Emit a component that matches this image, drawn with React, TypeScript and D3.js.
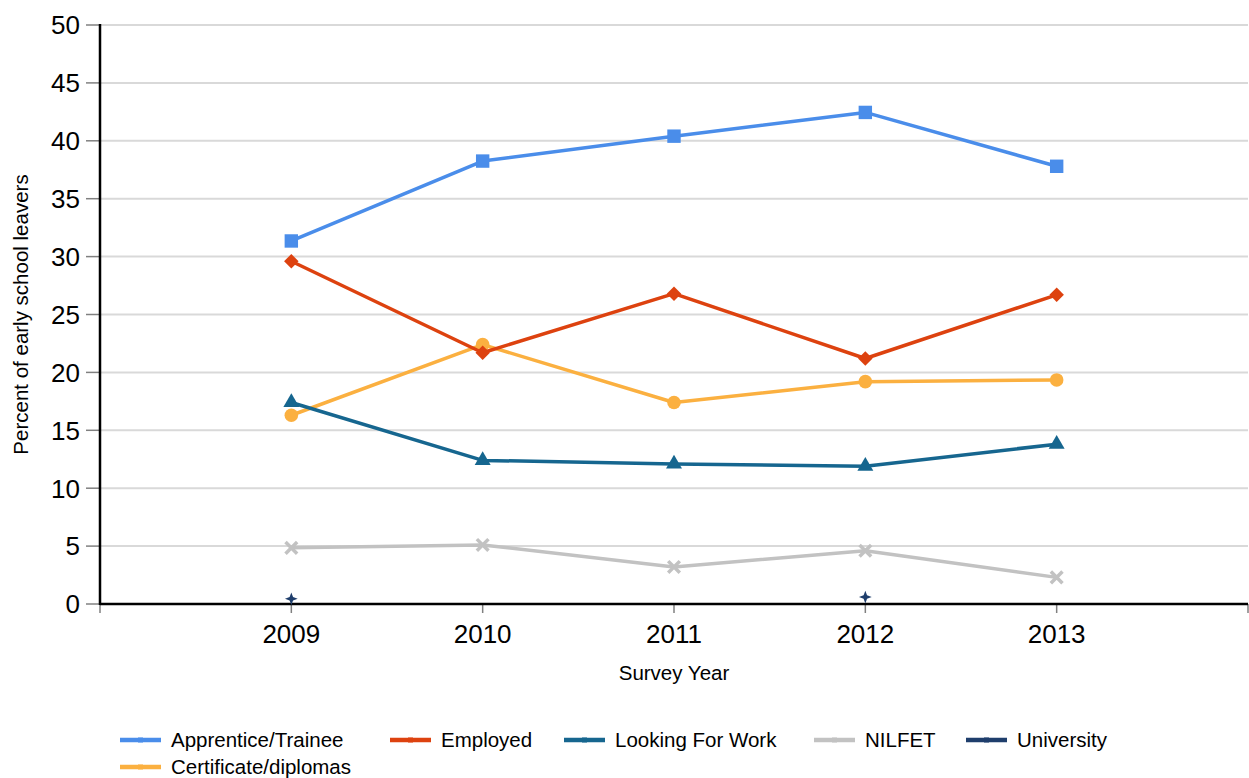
import React from "react";
import * as d3 from "d3";

const years = ["2009", "2010", "2011", "2012", "2013"];
const apprentice = [31.35, 38.25, 40.4, 42.45, 37.8];
const employed = [29.6, 21.7, 26.8, 21.2, 26.7];
const lookingForWork = [17.4, 12.4, 12.1, 11.9, 13.8];
const nilfet = [4.85, 5.1, 3.2, 4.6, 2.3];
const university: (number | null)[] = [0.45, null, null, 0.6, null];
const certificate = [16.3, 22.4, 17.4, 19.2, 19.35];
const yTicks = [0, 5, 10, 15, 20, 25, 30, 35, 40, 45, 50];
const seriesNames = ["Apprentice/Trainee", "Employed", "Looking For Work", "NILFET", "University", "Certificate/diplomas"];

const W = 1249, H = 778;
const left = 100, right = 1248, top = 25, bottom = 604;
const FONT = "'Liberation Sans', Arial, sans-serif";

const star4 = {
  draw(ctx: any, size: number) {
    const r = Math.sqrt(size) * 0.75;
    const ri = r * 0.38;
    for (let i = 0; i < 8; i++) {
      const a = (i * Math.PI) / 4 - Math.PI / 2;
      const rr = i % 2 === 0 ? r : ri;
      const x = Math.cos(a) * rr, y = Math.sin(a) * rr;
      if (i === 0) ctx.moveTo(x, y); else ctx.lineTo(x, y);
    }
    ctx.closePath();
  },
};

type S = { name: string; values: (number | null)[]; color: string; symbol: any; size: number; rotate?: number; stroke?: boolean };

const series: S[] = [
  { name: seriesNames[0], values: apprentice, color: "#4a8dea", symbol: d3.symbolSquare, size: 180 },
  { name: seriesNames[1], values: employed, color: "#dd420f", symbol: d3.symbolSquare, size: 105, rotate: 45 },
  { name: seriesNames[2], values: lookingForWork, color: "#16668f", symbol: d3.symbolTriangle, size: 110 },
  { name: seriesNames[3], values: nilfet, color: "#c2c2c2", symbol: d3.symbolTimes, size: 90, stroke: true },
  { name: seriesNames[4], values: university, color: "#1f3e6c", symbol: star4, size: 72 },
  { name: seriesNames[5], values: certificate, color: "#fbb040", symbol: d3.symbolCircle, size: 145 },
];

const legendPos = [
  { x: 120, y: 740 },
  { x: 390, y: 740 },
  { x: 564, y: 740 },
  { x: 814, y: 740 },
  { x: 966, y: 740 },
  { x: 120, y: 767 },
];

export default function App() {
  const x = d3.scalePoint<string>().domain(years).range([left, right]).padding(1);
  const y = d3.scaleLinear().domain([0, 50]).range([bottom, top]);
  const step = x.step();
  const xTickPos = d3.range(years.length + 2).map((i) => left + i * step);

  const drawOrder = [5, 3, 4, 2, 1, 0];

  return (
    <svg width={W} height={H} style={{ position: "absolute", left: 0, top: 0, background: "#fff" }} fontFamily={FONT}>
      {yTicks.map((t) => (
        <g key={t}>
          <line x1={left} x2={right} y1={y(t)} y2={y(t)} stroke="#d9d9d9" strokeWidth={2} />
          <line x1={86} x2={left} y1={y(t)} y2={y(t)} stroke="#808080" strokeWidth={1.5} />
          <text x={80} y={y(t)} dy="0.36em" textAnchor="end" fontSize={26} fill="#000">{t}</text>
        </g>
      ))}
      {xTickPos.map((p, i) => (
        <line key={i} x1={p} x2={p} y1={bottom} y2={bottom + 9} stroke="#808080" strokeWidth={1.5} />
      ))}
      {years.map((yr) => (
        <text key={yr} x={x(yr)} y={643} textAnchor="middle" fontSize={26} fill="#000">{yr}</text>
      ))}
      <line x1={left} x2={left} y1={top - 1} y2={bottom + 1} stroke="#000" strokeWidth={2.5} />
      <line x1={left} x2={right} y1={bottom} y2={bottom} stroke="#000" strokeWidth={2.5} />

      {drawOrder.map((si) => {
        const s = series[si];
        const all = s.values.map((v, i) => ({ v, i }));
        const pts = all.filter((d) => d.v !== null) as { v: number; i: number }[];
        const line = d3
          .line<{ v: number | null; i: number }>()
          .defined((d) => d.v !== null)
          .x((d) => x(years[d.i])!)
          .y((d) => y(d.v as number));
        const sym = d3.symbol().type(s.symbol).size(s.size)();
        return (
          <g key={s.name}>
            <path d={line(all) || ""} fill="none" stroke={s.color} strokeWidth={3.5} strokeLinejoin="round" />
            {pts.map((d) => (
              <path
                key={d.i}
                d={sym!}
                transform={`translate(${x(years[d.i])},${y(d.v)}) rotate(${s.rotate || 0})`}
                fill={s.stroke ? "none" : s.color}
                stroke={s.stroke ? s.color : "none"}
                strokeWidth={s.stroke ? 3.5 : 0}
              />
            ))}
          </g>
        );
      })}

      <text transform={`translate(28,${(top + bottom) / 2}) rotate(-90)`} textAnchor="middle" fontSize={20.5} fill="#000">
        Percent of early school leavers
      </text>
      <text x={(left + right) / 2} y={680} textAnchor="middle" fontSize={20.5} fill="#000">Survey Year</text>

      {series.map((s, i) => {
        const p = legendPos[i];
        return (
          <g key={s.name} transform={`translate(${p.x},${p.y})`}>
            <line x1={0} x2={41} y1={0} y2={0} stroke={s.color} strokeWidth={4.5} />
            <rect x={18} y={-2.5} width={5} height={5} fill={s.color} />
            <text x={51} y={0} dy="0.36em" fontSize={20.5} fill="#000">{s.name}</text>
          </g>
        );
      })}
    </svg>
  );
}
